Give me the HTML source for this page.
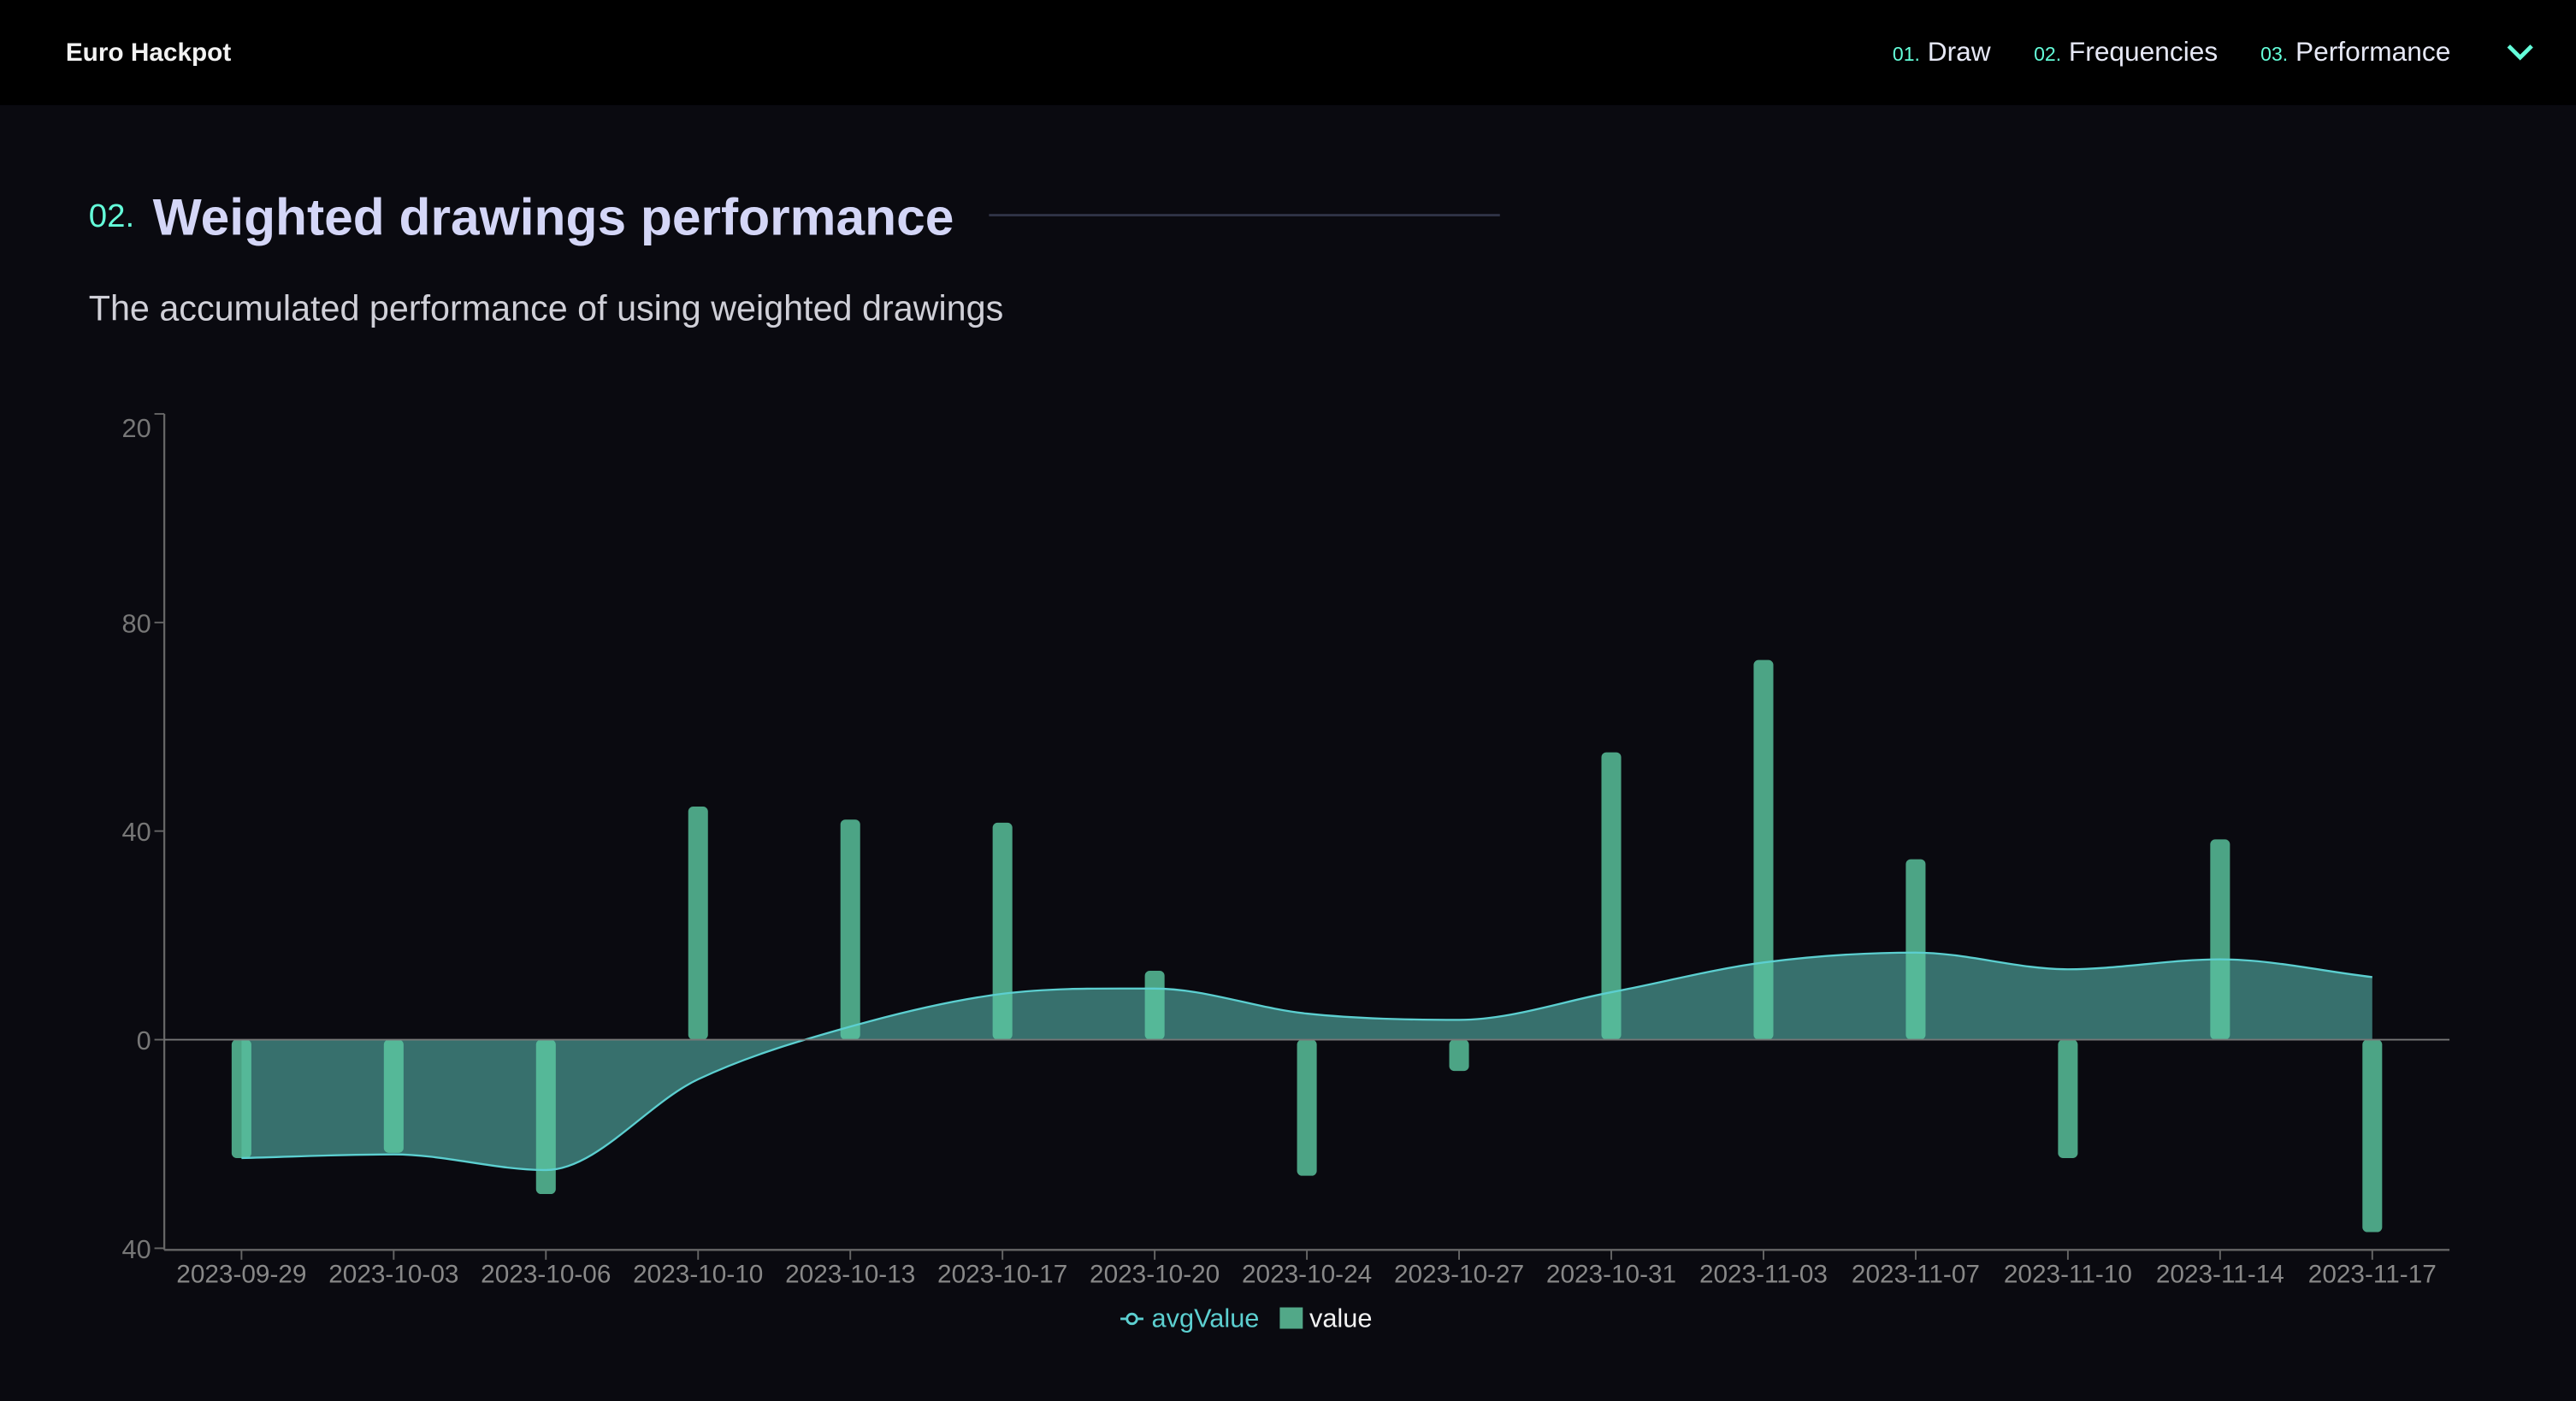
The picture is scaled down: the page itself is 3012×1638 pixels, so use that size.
<!DOCTYPE html>
<html><head><meta charset="utf-8"><style>
html,body{margin:0;padding:0;background:#0a0a10;width:3012px;height:1638px;overflow:hidden}
svg{display:block;font-family:"Liberation Sans",sans-serif}
</style></head><body>
<svg id="root" width="3012" height="1638" viewBox="0 0 1568 853" preserveAspectRatio="none">
<rect x="0" y="0" width="1568" height="853" fill="#0a0a10"/>
<g>
<rect x="0" y="0" width="1568" height="64" fill="#000"/>
<text x="40" y="37" font-size="15.5" font-weight="bold" fill="#f2f2f2">Euro Hackpot</text>
<g><text x="1152" y="37" font-size="16.5" fill="#e6e8f5"><tspan font-size="12" fill="#64ffda">01.</tspan> Draw</text></g>
<g><text x="1238" y="37" font-size="16.5" fill="#e6e8f5"><tspan font-size="12" fill="#64ffda">02.</tspan> Frequencies</text></g>
<g><text x="1376" y="37" font-size="16.5" fill="#e6e8f5"><tspan font-size="12" fill="#64ffda">03.</tspan> Performance</text></g>
<path d="M1527 28 L1534 35 L1541 28" stroke="#64ffda" stroke-width="2.5" fill="none"/>
</g>
<text x="54" y="138" font-size="20" fill="#64ffda">02.</text>
<text x="93" y="143" font-size="31.5" font-weight="bold" fill="#d4d6f7">Weighted drawings performance</text>
<line x1="602" y1="131" x2="913" y2="131" stroke="#2f3346" stroke-width="1.5"/>
<text x="54" y="195" font-size="21.5" fill="#d0d0d8">The accumulated performance of using weighted drawings</text>
<g id="chart"></g>
<g>
<g>
<line x1="682" y1="803" x2="696" y2="803" stroke="#5ccfd0" stroke-width="1.5"/>
<circle cx="689" cy="803" r="3" fill="#0a0a10" stroke="#5ccfd0" stroke-width="1.5"/>
<text x="701" y="808" font-size="16" fill="#5ccfd0">avgValue</text></g>
<g>
<rect x="779" y="796" width="14" height="13" fill="#52a888"/>
<text x="797" y="808" font-size="16" fill="#f2f2f2">value</text></g>
</g>
</svg>
<script>
const categories=["2023-09-29","2023-10-03","2023-10-06","2023-10-10","2023-10-13","2023-10-17","2023-10-20","2023-10-24","2023-10-27","2023-10-31","2023-11-03","2023-11-07","2023-11-10","2023-11-14","2023-11-17"];
const valueSeries=[-22.7,-21.7,-29.6,44.7,42.2,41.6,13.2,-26.1,-6,55.1,72.8,34.6,-22.7,38.4,-36.9];
const avgSeries=[-22.7,-22,-25,-7.6,2.5,8.8,9.8,5,3.8,9.1,14.8,16.7,13.5,15.4,12];
const yTicks=[120,80,40,0,-40];
const yTickLabels=["20","80","40","0","40"];

const NS="http://www.w3.org/2000/svg";
const g=document.getElementById('chart');
const L=100,R=1491,T=252,B=761;
const x0=147,x1=1444;
function xs(i){return x0+(x1-x0)*i/(categories.length-1);}
function ys(v){return 633-v*(127/40);}
function mk(tag,a){const e=document.createElementNS(NS,tag);for(const k in a)e.setAttribute(k,a[k]);g.appendChild(e);return e;}

yTicks.forEach((t,i)=>{
  const tk=mk('line',{x1:L-6,y1:ys(t),x2:L,y2:ys(t),stroke:'#666','stroke-width':1});
  
  
  const tx=mk('text',{x:L-8,y:ys(t)+(i===0?14:6),'font-size':16,fill:'#777','text-anchor':'end'});
  tx.textContent=yTickLabels[i];
  
  
});
categories.forEach((c,i)=>{
  const tk=mk('line',{x1:xs(i),y1:B,x2:xs(i),y2:B+6,stroke:'#666','stroke-width':1});
  
  
  const tx=mk('text',{x:xs(i),y:B+20,'font-size':15.5,fill:'#888','text-anchor':'middle'});
  tx.textContent=c;
  
  
});

const pts=avgSeries.map((v,i)=>[xs(i),ys(v)]);
function monoPath(p){
  const n=p.length,d=[],m=[];
  for(let i=0;i<n-1;i++)d.push((p[i+1][1]-p[i][1])/(p[i+1][0]-p[i][0]));
  for(let i=0;i<n;i++){
    if(i===0)m.push(d[0]);else if(i===n-1)m.push(d[n-2]);
    else m.push(d[i-1]*d[i]<=0?0:(d[i-1]+d[i])/2);
  }
  let s='M'+p[0][0]+','+p[0][1];
  for(let i=0;i<n-1;i++){
    const h=(p[i+1][0]-p[i][0])/3;
    s+=' C'+(p[i][0]+h)+','+(p[i][1]+m[i]*h)+' '+(p[i+1][0]-h)+','+(p[i+1][1]-m[i+1]*h)+' '+p[i+1][0]+','+p[i+1][1];
  }
  return s;
}
const lp=monoPath(pts);
const area=mk('path',{d:lp+' L'+xs(categories.length-1)+','+ys(0)+' L'+xs(0)+','+ys(0)+' Z',fill:'#37706d'});



valueSeries.forEach((v,i)=>{
  const y=Math.min(ys(v),ys(0)),h=Math.abs(ys(v)-ys(0));
  const b=mk('rect',{x:xs(i)-6,y:y,width:12,height:h,rx:3,fill:'#5ccaa2','fill-opacity':0.8});
  
  
});

const line=mk('path',{d:lp,fill:'none',stroke:'#5ccfd0','stroke-width':1.2});



const ya=mk('line',{x1:L,y1:T,x2:L,y2:B,stroke:'#666','stroke-width':1.2});


const xa=mk('line',{x1:L,y1:B,x2:R,y2:B,stroke:'#666','stroke-width':1.2});


const zl=mk('line',{x1:L,y1:ys(0),x2:R,y2:ys(0),stroke:'#777','stroke-width':1});


</script>
</body></html>
